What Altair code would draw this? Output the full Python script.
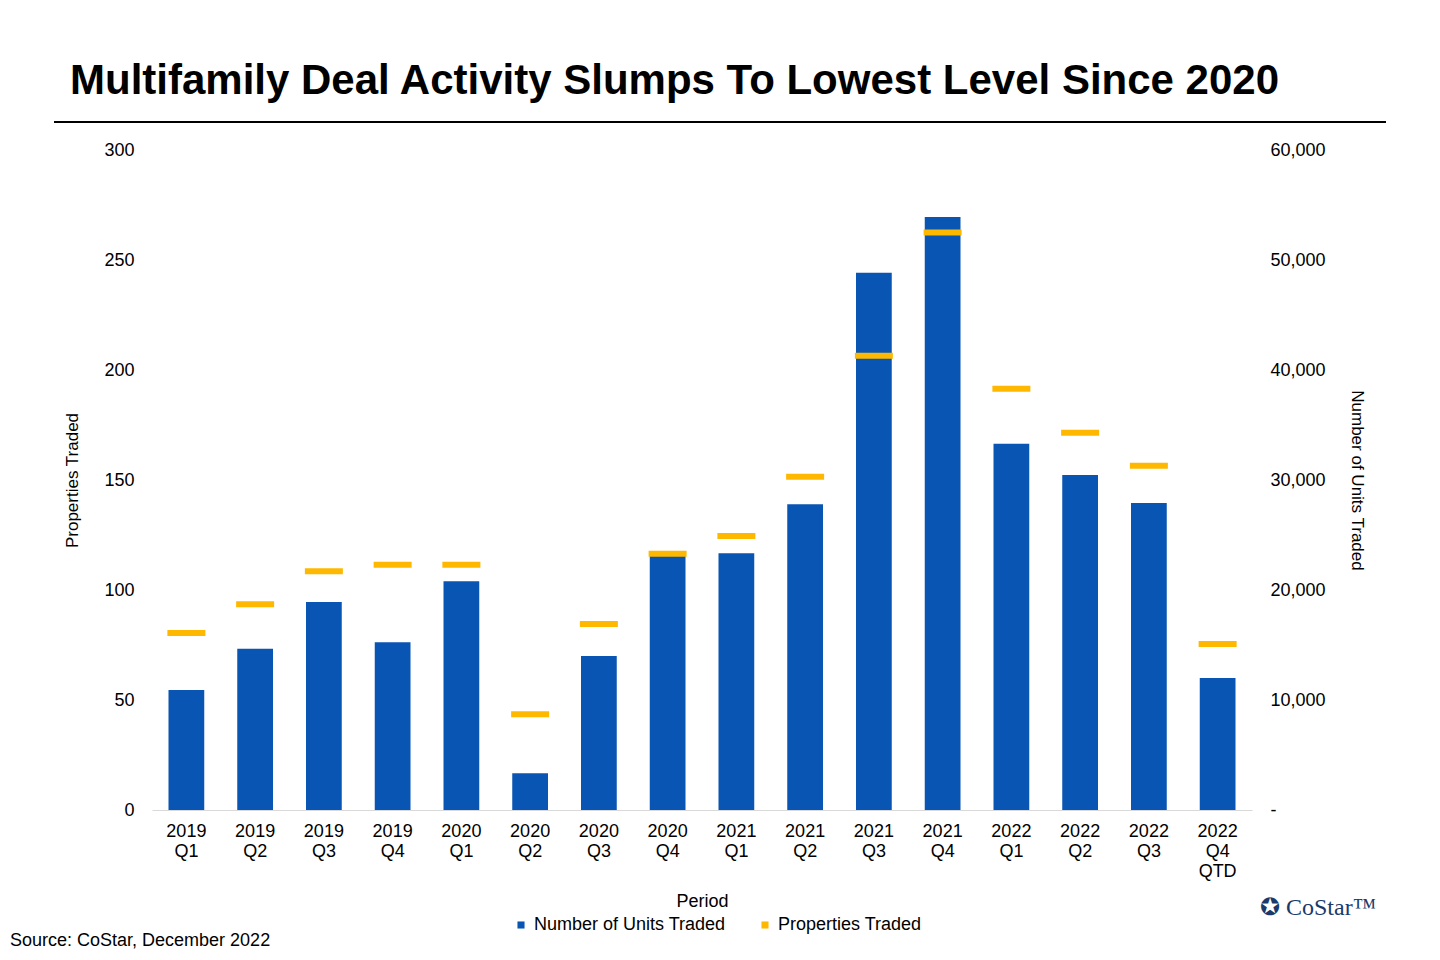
import altair as alt
import pandas as pd

periods = ["2019 Q1","2019 Q2","2019 Q3","2019 Q4","2020 Q1","2020 Q2","2020 Q3","2020 Q4",
           "2021 Q1","2021 Q2","2021 Q3","2021 Q4","2022 Q1","2022 Q2","2022 Q3","2022 Q4 QTD"]
units = [10900,14650,18900,15250,20800,3350,14000,23500,23350,27800,48850,53900,33300,30450,27900,12000]
props = [80.5,93.5,108.5,111.5,111.5,43.5,84.5,116.5,124.5,151.5,206.5,262.5,191.5,171.5,156.5,75.5]

df = pd.DataFrame({"Period": periods, "units": units, "props": props,
                   "s1": "Number of Units Traded", "s2": "Properties Traded"})
one = pd.DataFrame({"a": [0]})
F = "Liberation Sans"
color = alt.Color("series:N", scale=alt.Scale(domain=["Number of Units Traded","Properties Traded"],
                  range=["#0855b3","#ffb800"]),
                  legend=alt.Legend(orient="none", legendX=360, legendY=766, direction="horizontal",
                                    title=None, symbolType="square", labelFontSize=18,
                                    labelFont=F, labelColor="#000", symbolSize=50,
                                    columnPadding=30, labelLimit=400, symbolOpacity=1))
x = alt.X("Period:N", sort=periods, title="Period",
          axis=alt.Axis(labelAngle=0, labelExpr="split(datum.label, ' ')", labelFontSize=18,
                        labelFont=F, labelColor="#000", titleFont=F, titleFontSize=18,
                        titleFontWeight="normal", titleColor="#000", domainColor="#d9d9d9", ticks=False,
                        labelPadding=12, titlePadding=12),
          scale=alt.Scale(paddingInner=0.48, paddingOuter=0.24))
bars = alt.Chart(df).transform_calculate(series="datum.s1").mark_bar(opacity=1).encode(
    x=x,
    y=alt.Y("units:Q", scale=alt.Scale(domain=[0,60000]), title="Number of Units Traded",
            axis=alt.Axis(orient="right", grid=False, values=[0,10000,20000,30000,40000,50000,60000],
                          labelExpr="datum.value==0 ? '-' : format(datum.value, ',')",
                          labelFontSize=18, labelFont=F, labelColor="#000", titleFont=F, titleFontSize=17,
                          titleFontWeight="normal", titleColor="#000", domain=False, ticks=False,
                          labelPadding=18, titlePadding=22)),
    color=color)
ticks = alt.Chart(df).transform_calculate(series="datum.s2").mark_tick(thickness=6, size=38, opacity=1).encode(
    x=x,
    y=alt.Y("props:Q", scale=alt.Scale(domain=[0,300]), title="Properties Traded",
            axis=alt.Axis(orient="left", values=[0,50,100,150,200,250,300], gridColor="#e0e0e0",
                          labelFontSize=18, labelFont=F, labelColor="#000", titleFont=F, titleFontSize=17,
                          titleFontWeight="normal", titleColor="#000", domain=False, ticks=False,
                          labelPadding=18, titlePadding=22)),
    color=color)
rule = alt.Chart(one).mark_rule(color="#000", strokeWidth=2).encode(
    x=alt.value(-98), x2=alt.value(1234), y=alt.value(-28))
src = alt.Chart(one).mark_text(align="left", baseline="middle", fontSize=18, font=F, color="#000").encode(
    x=alt.value(-142), y=alt.value(791), text=alt.value("Source: CoStar, December 2022"))
logo = alt.Chart(one).mark_text(align="left", baseline="middle", fontSize=24, font="Liberation Serif",
                               color="#1a3a6b").encode(
    x=alt.value(1108), y=alt.value(758), text=alt.value("✪ CoStar™"))

chart = alt.layer(bars, ticks, rule, src, logo).resolve_scale(y="independent").properties(
    width=1100, height=660,
    title=alt.Title("Multifamily Deal Activity Slumps To Lowest Level Since 2020", anchor="start",
                    fontSize=42, font=F, fontWeight="bold", color="#000", offset=18, dx=60),
    background="white",
    autosize=alt.AutoSizeParams(type="none"),
    padding={"left": 144, "top": 142, "right": 180, "bottom": 140}
).configure_view(stroke=None)
chart.save("out.html", embed_options={"renderer": "svg", "actions": False})
